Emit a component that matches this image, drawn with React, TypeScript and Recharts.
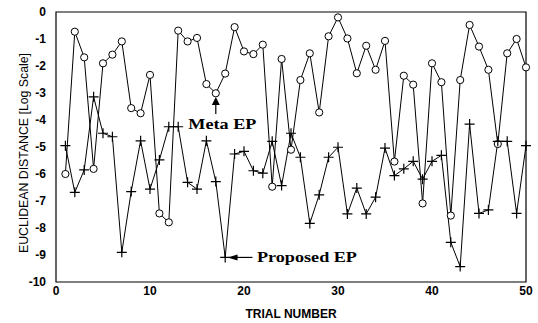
import { LineChart, Line, XAxis, YAxis, ReferenceArea, ReferenceDot, ReferenceLine } from 'recharts'

const trials = [
  1, 2, 3, 4, 5, 6, 7, 8, 9, 10, 11, 12, 13, 14, 15, 16, 17, 18, 19, 20, 21, 22, 23, 24, 25,
  26, 27, 28, 29, 30, 31, 32, 33, 34, 35, 36, 37, 38, 39, 40, 41, 42, 43, 44, 45, 46, 47, 48, 49, 50,
]
const metaEP = [
  -6.0, -0.73, -1.68, -5.81, -1.9, -1.58, -1.09, -3.56, -3.75, -2.33, -7.46, -7.79, -0.69, -1.09, -0.96, -2.67, -3.01, -2.28, -0.56, -1.46, -1.56, -1.21, -6.47, -1.74, -5.1,
  -2.52, -1.53, -3.72, -0.9, -0.2, -0.98, -2.27, -1.25, -2.14, -1.07, -5.54, -2.36, -2.69, -7.09, -1.9, -2.6, -7.54, -2.52, -0.48, -1.28, -2.14, -4.89, -1.53, -1.0, -2.05,
]
const proposedEP = [
  -4.95, -6.68, -5.85, -3.14, -4.49, -4.62, -8.9, -6.65, -4.77, -6.56, -5.48, -4.25, -4.25, -6.31, -6.56, -4.77, -6.28, -9.09, -5.26, -5.16, -5.88, -5.97, -4.79, -6.43, -4.49,
  -5.38, -7.83, -6.77, -5.38, -5.01, -7.48, -6.52, -7.48, -6.86, -5.04, -6.06, -5.81, -5.53, -6.19, -5.53, -5.31, -8.53, -9.43, -4.15, -7.46, -7.33, -4.79, -4.79, -7.46, -4.95,
]
const xTicks = [0, 10, 20, 30, 40, 50]
const yTicks = [0, -1, -2, -3, -4, -5, -6, -7, -8, -9, -10]

const data = trials.map((t, i) => ({ trial: t, meta: metaEP[i], proposed: proposedEP[i] }))

const tickFont = { fontFamily: 'Arial, Liberation Sans, sans-serif', fontSize: 12, fontWeight: 'bold', fill: '#000' }

function Circle(props: any) {
  const { cx, cy } = props
  return <circle cx={cx} cy={cy} r={3.6} fill="#fff" stroke="#000" strokeWidth={1} />
}

function Plus(props: any) {
  const { cx, cy } = props
  return (
    <path d={`M${cx - 5},${cy}H${cx + 5}M${cx},${cy - 5}V${cy + 5}`} stroke="#000" strokeWidth={1.2} fill="none" />
  )
}

function UpArrow(props: any) {
  const { cx, cy } = props
  return <path d={`M${cx},${cy}L${cx - 4},${cy + 8}L${cx + 4},${cy + 8}Z`} fill="#000" />
}

function LeftArrow(props: any) {
  const { cx, cy } = props
  return <path d={`M${cx},${cy}L${cx + 10},${cy - 3}L${cx + 10},${cy + 3}Z`} fill="#000" />
}

function AnnoText({ cx, cy, text, len }: any) {
  return (
    <text
      x={cx}
      y={cy}
      textAnchor="middle"
      dominantBaseline="central"
      textLength={len}
      lengthAdjust="spacingAndGlyphs"
      fill="#000"
      style={{ fontFamily: 'Times New Roman, Liberation Serif, serif', fontSize: 15, fontWeight: 'bold' }}
    >
      {text}
    </text>
  )
}

function YLabel(props: any) {
  const { viewBox } = props
  const cy = viewBox.y + viewBox.height / 2 + 6
  return (
    <text
      x={24}
      y={cy}
      transform={`rotate(-90, 24, ${cy})`}
      textAnchor="middle"
      dominantBaseline="central"
      fill="#000"
      textLength={200}
      lengthAdjust="spacingAndGlyphs"
      style={{ fontFamily: 'Arial, Liberation Sans, sans-serif', fontSize: 12 }}
    >
      EUCLIDEAN DISTANCE [Log Scale]
    </text>
  )
}

export default function App() {
  return (
    <div style={{ position: 'absolute', left: 0, top: 0, background: '#fff' }}>
      <LineChart width={538} height={323} data={data} margin={{ top: 12, right: 12, left: 0, bottom: 0 }}>
        <XAxis
          dataKey="trial"
          type="number"
          domain={[0, 50]}
          ticks={xTicks}
          tickLine={false}
          axisLine={false}
          tick={tickFont}
          tickMargin={-2}
          height={41}
          label={{ value: 'TRIAL NUMBER', position: 'insideBottom', offset: 5, style: tickFont }}
        />
        <YAxis
          type="number"
          domain={[-10, 0]}
          ticks={yTicks}
          tickLine={false}
          axisLine={false}
          tick={tickFont}
          tickMargin={4}
          width={56}
          label={<YLabel />}
        />
        <ReferenceArea x1={0} x2={50} y1={-10} y2={0} fill="none" stroke="#000" strokeWidth={1.2} />
        <Line dataKey="meta" stroke="#000" strokeWidth={1} dot={<Circle />} isAnimationActive={false} />
        <Line dataKey="proposed" stroke="#000" strokeWidth={1} dot={<Plus />} isAnimationActive={false} />
        <ReferenceLine segment={[{ x: 17, y: -3.4 }, { x: 17, y: -3.78 }]} stroke="#000" strokeWidth={1.2} />
        <ReferenceDot x={17} y={-3.15} r={0} shape={<UpArrow />} />
        <ReferenceDot x={17.7} y={-4.15} r={0} shape={<AnnoText text="Meta EP" len={68} />} />
        <ReferenceLine segment={[{ x: 19.2, y: -9.09 }, { x: 20.9, y: -9.09 }]} stroke="#000" strokeWidth={1.2} />
        <ReferenceDot x={18.25} y={-9.09} r={0} shape={<LeftArrow />} />
        <ReferenceDot x={26.7} y={-9.09} r={0} shape={<AnnoText text="Proposed EP" len={100} />} />
      </LineChart>
    </div>
  )
}
